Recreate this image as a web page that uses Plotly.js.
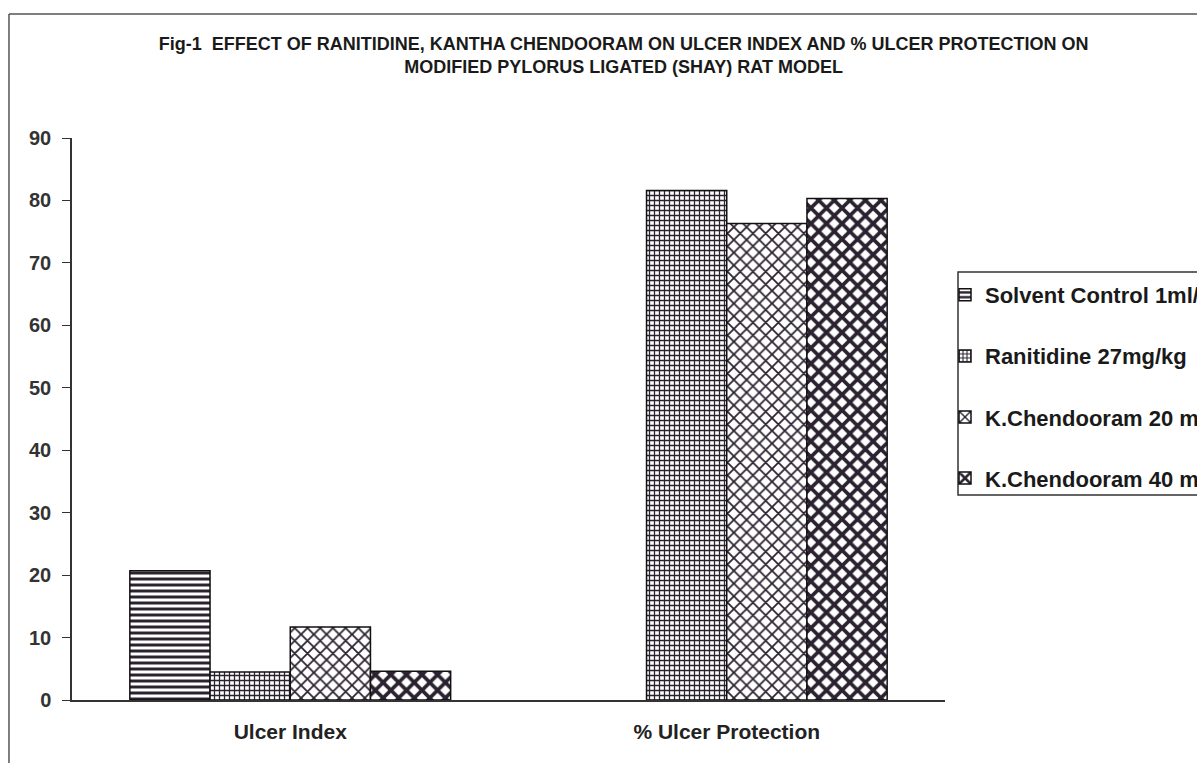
<!DOCTYPE html>
<html><head><meta charset="utf-8">
<script src="https://cdn.plot.ly/plotly-3.0.1.min.js"></script>
<style>html,body{margin:0;padding:0;background:#fff}#c{width:1197px;height:763px}</style>
</head><body><div id="c"></div>
<script>
const categories = ["Ulcer Index", "% Ulcer Protection"];
const seriesNames = ["Solvent Control 1ml/kg", "Ranitidine 27mg/kg", "K.Chendooram 20 mg/kg", "K.Chendooram 40 mg/kg"];
const solventControl = [20.7, 0];
const ranitidine = [4.5, 81.6];
const kChendooram20 = [11.7, 76.3];
const kChendooram40 = [4.6, 80.3];
const yTicks = [0, 10, 20, 30, 40, 50, 60, 70, 80, 90];

const ink = "#2b2230";
const patterns = [
  {shape: "-", size: 6, solidity: 0.5},
  {shape: "+", size: 5, solidity: 0.45},
  {shape: "x", size: 9, solidity: 0.35},
  {shape: "x", size: 11, solidity: 0.55}
];
const values = [solventControl, ranitidine, kChendooram20, kChendooram40];
const traces = values.map((v, i) => ({
  type: "bar", x: categories, y: v, name: seriesNames[i], legendgroup: "g" + i,
  marker: {color: "#ffffff", line: {color: "#111", width: v.map(d => d > 0 ? 1.5 : 0)},
    pattern: Object.assign({fgcolor: ink, bgcolor: "#ffffff", fillmode: "replace"}, patterns[i])}
}));

const baseFont = "Liberation Sans, Arial, sans-serif";
const layout = {
  width: 1197, height: 763,
  margin: {l: 72, r: 252, t: 138, b: 63, autoexpand: false},
  paper_bgcolor: "#fff", plot_bgcolor: "#fff",
  font: {family: baseFont, color: "#222"},
  title: {text: "<b>Fig-1  EFFECT OF RANITIDINE, KANTHA CHENDOORAM ON ULCER INDEX AND % ULCER PROTECTION ON<br>MODIFIED PYLORUS LIGATED (SHAY) RAT MODEL</b>",
    font: {family: "Liberation Sans Narrow, Arial Narrow, Liberation Sans, sans-serif", size: 18, color: "#1a1a1a"},
    x: 0.521, xanchor: "center", y: 0.935, yanchor: "top"},
  barmode: "group", bargap: 0.265, bargroupgap: 0,
  xaxis: {showline: true, linecolor: "#333", linewidth: 1.5, ticks: "", showgrid: false, ticklabelstandoff: 12,
    tickfont: {size: 21, family: baseFont, color: "#222", weight: "bold"}},
  yaxis: {range: [0, 90], tickvals: yTicks, showline: true, linecolor: "#333", linewidth: 1.5,
    ticks: "outside", ticklen: 8, tickcolor: "#333", showgrid: false, zeroline: false, ticklabelstandoff: 7,
    tickfont: {size: 20, family: baseFont, color: "#333", weight: "bold"}},
  legend: {x: 1.0, xanchor: "left", y: 0.758, yanchor: "top", borderwidth: 0,
    bgcolor: "rgba(0,0,0,0)", traceorder: "grouped", tracegroupgap: 29.5,
    font: {size: 22, family: baseFont, color: "#1a1a1a", weight: "bold"}},
  shapes: [
    {type: "line", xref: "paper", yref: "paper", x0: -0.0722, x1: -0.0722, y0: -0.2, y1: 1.2206, line: {color: "#555", width: 1.5}},
    {type: "line", xref: "paper", yref: "paper", x0: -0.0722, x1: 1.4, y0: 1.2206, y1: 1.2206, line: {color: "#555", width: 1.5}},
    {type: "rect", xref: "paper", yref: "paper", x0: 1.0149, x1: 1.4, y0: 0.3648, y1: 0.7616, line: {color: "#333", width: 1.5}}
  ]
};
Plotly.newPlot("c", traces, layout, {displayModeBar: false});
</script></body></html>
